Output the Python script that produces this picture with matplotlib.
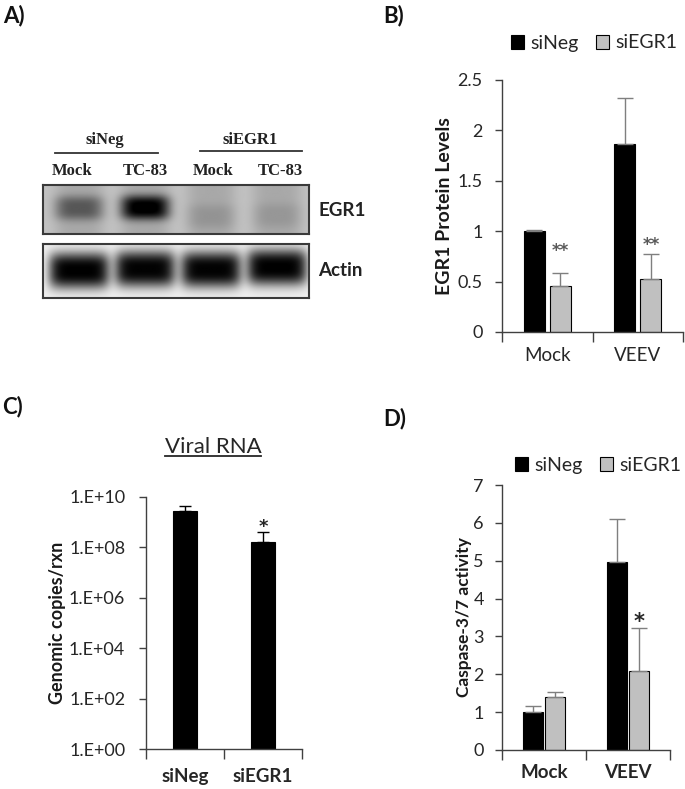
import numpy as np
import matplotlib
matplotlib.use('Agg')
import matplotlib.pyplot as plt
from matplotlib.lines import Line2D
from matplotlib.patches import Patch

plt.rcParams['font.family'] = ['Lato', 'DejaVu Sans']

# A) western blot, relative band strength per lane
lanes = ['Mock', 'TC-83', 'Mock', 'TC-83']
lane_groups = ['siNeg', 'siEGR1']
egr1_band = [0.32, 0.70, 0.08, 0.07]
actin_band = [0.93, 0.92, 0.92, 0.93]

# B) EGR1 protein levels
groups = ['Mock', 'VEEV']
series = ['siNeg', 'siEGR1']
egr1_neg = [1.0, 1.87]
egr1_neg_err = [0.01, 0.45]
egr1_kd = [0.46, 0.53]
egr1_kd_err = [0.13, 0.24]
egr1_stars = ['**', '**']

# C) viral RNA
rna_groups = ['siNeg', 'siEGR1']
rna_copies = [2.7e9, 1.7e8]
rna_err = [1.6e9, 2.4e8]
rna_stars = ['', '*']

# D) caspase-3/7 activity
casp_groups = ['Mock', 'VEEV']
casp_neg = [1.0, 4.97]
casp_neg_err = [0.15, 1.13]
casp_kd = [1.39, 2.10]
casp_kd_err = [0.15, 1.11]
casp_stars = ['', '*']

W, H = 685, 789
fig = plt.figure(figsize=(W / 100, H / 100), dpi=100)
AX = '#404040'
TXT = '#262626'


def px_axes(x0, y0, x1, y1):
    return fig.add_axes([x0 / W, 1 - y1 / H, (x1 - x0) / W, (y1 - y0) / H])


def ftext(x, y, s, **kw):
    return fig.text(x / W, 1 - y / H, s, **kw)


def fline(x0, x1, y, **kw):
    fig.add_artist(Line2D([x0 / W, x1 / W], [1 - y / H, 1 - y / H],
                          transform=fig.transFigure, **kw))


def style(ax, names, bold_x, pad, ypad):
    for s in ['top', 'right']:
        ax.spines[s].set_visible(False)
    for s in ['left', 'bottom']:
        ax.spines[s].set_color(AX)
        ax.spines[s].set_linewidth(1.0)
    n = len(names)
    ax.set_xlim(-0.5, n - 0.5)
    ax.set_xticks(np.arange(n))
    ax.set_xticklabels(names, fontsize=13.5, color=TXT,
                       fontweight='bold' if bold_x else 'normal')
    ax.set_xticks(np.arange(n + 1) - 0.5, minor=True)
    ax.tick_params(axis='x', which='major', length=0, pad=pad)
    ax.tick_params(axis='x', which='minor', length=7, width=1, color=AX, direction='out')
    ax.tick_params(axis='y', length=5, width=1, color=AX, direction='out',
                   labelsize=13, labelcolor=TXT, pad=ypad)
    ax.tick_params(axis='y', which='minor', length=0)


def pair_bars(ax, a, a_err, b, b_err, width, off, ecolor, capsize):
    x = np.arange(len(a))
    ax.bar(x - off, a, width, color='black', edgecolor='black', lw=0.8, label=series[0])
    ax.bar(x + off, b, width, color='#c0c0c0', edgecolor='black', lw=0.8, label=series[1])
    z = np.zeros(len(a))
    ax.errorbar(x - off, a, yerr=[z, a_err], fmt='none', ecolor=ecolor,
                elinewidth=1, capsize=capsize, capthick=1)
    ax.errorbar(x + off, b, yerr=[z, b_err], fmt='none', ecolor=ecolor,
                elinewidth=1, capsize=capsize, capthick=1)


def stars(ax, xs, ys, marks, color, size):
    for x, y, m in zip(xs, ys, marks):
        if m:
            ax.text(x, y, m, ha='center', va='baseline', color=color,
                    fontsize=size, fontweight='bold', family='DejaVu Sans')


def legend(ax, cx, cy):
    h = [Patch(facecolor='black', edgecolor='black', lw=0.8),
         Patch(facecolor='#c0c0c0', edgecolor='black', lw=0.8)]
    ax.legend(h, series, loc='center', bbox_to_anchor=(cx / W, 1 - cy / H),
              bbox_transform=fig.transFigure, ncol=2, frameon=False,
              handlelength=0.7, handleheight=0.7, handletextpad=0.3,
              columnspacing=0.9, fontsize=14, labelcolor=TXT,
              borderpad=0, borderaxespad=0)


# ---- A) blot ----
def blot(signal, y_mid, y_half, lane_half, bg_lane, bg_gap, px=4):
    xs = np.linspace(-0.545, 3.48, 400)
    ys = np.linspace(0, 1, 80)
    X, Y = np.meshgrid(xs, ys)
    lane_mask = sum(np.exp(-np.abs((X - i) / 0.37) ** 4) for i in range(len(signal)))
    img = bg_gap - (bg_gap - bg_lane) * lane_mask
    for i, s in enumerate(signal):
        band = np.exp(-np.abs((X - i) / lane_half) ** px) * \
            np.exp(-np.abs((Y - y_mid[i]) / y_half) ** 3)
        img = img - s * band
    return np.clip(img, 0, 1)


for (y0, y1, sig, ymid, yh, lh, bgl, bgg, px) in [
        (185, 234, egr1_band, [0.47, 0.46, 0.64, 0.62], 0.25, 0.37, 0.66, 0.76, 4),
        (244, 298, actin_band, [0.5, 0.47, 0.48, 0.44], 0.33, 0.46, 0.93, 0.94, 6)]:
    axb = px_axes(43, y0, 309, y1)
    axb.imshow(blot(sig, ymid, yh, lh, bgl, bgg, px), cmap='gray', vmin=0, vmax=1,
               aspect='auto', interpolation='bilinear', extent=(-0.545, 3.48, 1, 0))
    axb.set_xticks([])
    axb.set_yticks([])
    for s in axb.spines.values():
        s.set_color('#3a3a3a')
        s.set_linewidth(1.5)

serif = dict(family='Liberation Serif', fontweight='bold', fontsize=12, color='#222222')
for cx, name, (lx0, lx1, ly) in zip([105, 250], lane_groups,
                                   [(55, 158, 153), (200, 302, 151)]):
    ftext(cx, 140, name, ha='center', va='center', **serif)
    fline(lx0, lx1, ly, color='#333333', lw=1.3)
for cx, name in zip([72, 145, 213, 280], lanes):
    ftext(cx, 171, name, ha='center', va='center', **serif)
ftext(318, 210, 'EGR1', ha='left', va='center', fontsize=13.5, fontweight='bold', color='#222222')
ftext(318, 270, 'Actin', ha='left', va='center', fontsize=13.5, fontweight='bold', color='#222222')

# ---- B) ----
axB = px_axes(502, 80, 683, 332)
pair_bars(axB, egr1_neg, egr1_neg_err, egr1_kd, egr1_kd_err, 0.23, 0.145, '#7f7f7f', 5.5)
axB.set_ylim(0, 2.5)
axB.set_yticks([0, 0.5, 1, 1.5, 2, 2.5])
axB.set_yticklabels(['0', '0.5', '1', '1.5', '2', '2.5'])
style(axB, groups, False, 11, 9)
axB.set_ylabel('EGR1 Protein Levels', fontsize=14, fontweight='bold', color='#1a1a1a', labelpad=3)
stars(axB, np.arange(2) + 0.145, [0.75, 0.81], egr1_stars, '#595959', 12)
legend(axB, 594, 43)

# ---- C) ----
axC = px_axes(146, 497, 302, 749)
xc = np.arange(2)
axC.bar(xc, rna_copies, 0.31, color='black', edgecolor='black', lw=0.8)
axC.errorbar(xc, rna_copies, yerr=[np.zeros(2), rna_err], fmt='none', ecolor='black',
             elinewidth=1, capsize=4.5, capthick=1)
axC.set_yscale('log')
axC.set_ylim(1, 1e10)
ct = [10.0 ** k for k in range(0, 11, 2)]
axC.set_yticks(ct)
axC.set_yticklabels(['1.E+%02d' % k for k in range(0, 11, 2)])
style(axC, rna_groups, True, 14, 10)
axC.set_ylabel('Genomic copies/rxn', fontsize=13, fontweight='bold', color='#1a1a1a', labelpad=2)
stars(axC, xc, np.add(rna_copies, rna_err), rna_stars, '#262626', 13)
t = ftext(213, 453, 'Viral RNA', ha='center', va='baseline', fontsize=16, color=TXT)

# ---- D) ----
axD = px_axes(502, 485, 670, 750)
pair_bars(axD, casp_neg, casp_neg_err, casp_kd, casp_kd_err, 0.24, 0.135, '#7f7f7f', 5.5)
axD.set_ylim(0, 7)
axD.set_yticks(range(8))
style(axD, casp_groups, True, 10, 8)
axD.set_ylabel('Caspase-3/7 activity', fontsize=12.5, fontweight='bold', color='#1a1a1a', labelpad=1)
stars(axD, np.arange(2) + 0.135, np.add(casp_kd, casp_kd_err), casp_stars, '#262626', 15)
legend(axD, 598, 465)

# panel letters
for x, y, s in [(3, 22, 'A)'), (383, 22, 'B)'), (2, 413, 'C)'), (383, 425, 'D)')]:
    ftext(x, y, s, ha='left', va='baseline', fontsize=16, fontweight='bold', color='#111111')

# underline the C title
fig.canvas.draw()
bb = t.get_window_extent()
fline(bb.x0, bb.x1, 455.5, color=TXT, lw=1.3)

fig.savefig('out.png', dpi=100)
